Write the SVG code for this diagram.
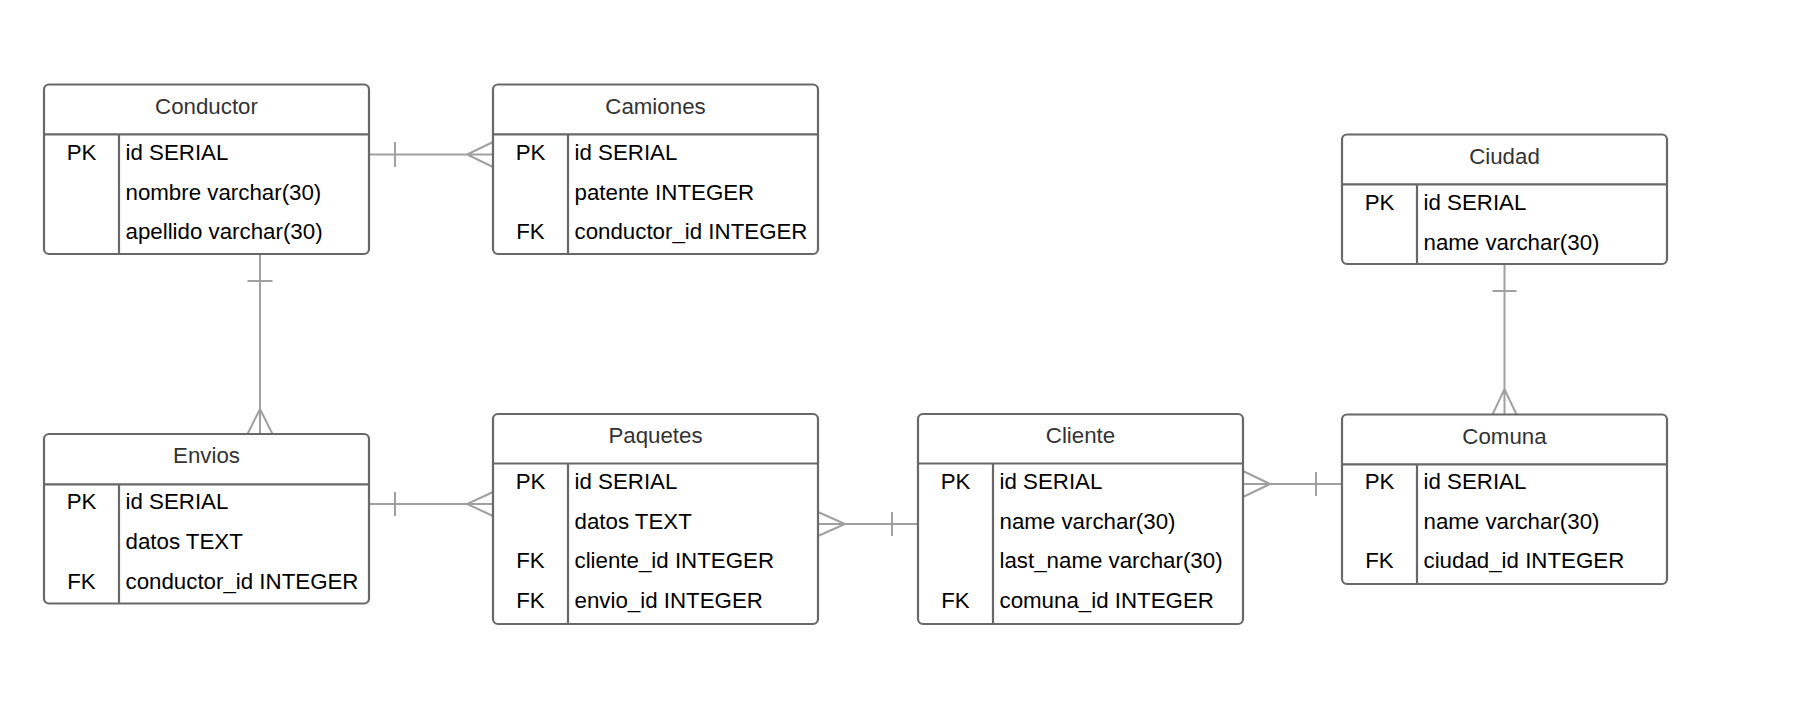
<svg xmlns="http://www.w3.org/2000/svg" width="1800" height="702" viewBox="0 0 1800 702">
<style>
.box{fill:#fff;stroke:#686868;stroke-width:2.2}
.ln{stroke:#686868;stroke-width:2.2;fill:none}
.title{font-family:"Liberation Sans",Arial,sans-serif;font-size:22.3px;fill:#333;text-anchor:middle}
.k{font-family:"Liberation Sans",Arial,sans-serif;font-size:22.3px;fill:#000;text-anchor:middle}
.f{font-family:"Liberation Sans",Arial,sans-serif;font-size:22.3px;fill:#000}
.c{stroke:#a0a0a0;stroke-width:2;fill:none}
</style>
<rect width="1800" height="702" fill="#fff"/>
<g id="connectors">
  <path class="c" d="M369,154.5H493M395,142V167M493,142L467,154.5L493,167"/>
  <path class="c" d="M260,254V434M247.5,281H272.5M247.5,434L260,409L272.5,434"/>
  <path class="c" d="M369,504H493M395,492V516M493,492L467,504L493,516"/>
  <path class="c" d="M818,524H918M818,512L845,524L818,536M892,512V536"/>
  <path class="c" d="M1243,484H1342M1243,471L1270,484L1243,497M1316,472V496"/>
  <path class="c" d="M1504.5,264V414.5M1492.5,291H1516.5M1492.5,414.5L1504.5,389L1516.5,414.5"/>
</g>
<g id="conductor">
  <rect class="box" x="44" y="84.5" width="325" height="169.5" rx="5"/>
  <path class="ln" d="M44,134.3H369M119,134.3V254"/>
  <text class="title" x="206.5" y="113.5">Conductor</text>
  <text class="k" x="81.5" y="159.5">PK</text>
  <text class="f" x="125.5" y="159.5">id SERIAL</text>
  <text class="f" x="125.5" y="199.5">nombre varchar(30)</text>
  <text class="f" x="125.5" y="239">apellido varchar(30)</text>
</g>
<g id="camiones">
  <rect class="box" x="493" y="84.5" width="325" height="169.5" rx="5"/>
  <path class="ln" d="M493,134.3H818M568,134.3V254"/>
  <text class="title" x="655.5" y="113.5">Camiones</text>
  <text class="k" x="530.5" y="159.5">PK</text>
  <text class="f" x="574.5" y="159.5">id SERIAL</text>
  <text class="f" x="574.5" y="199.5">patente INTEGER</text>
  <text class="k" x="530.5" y="239">FK</text>
  <text class="f" x="574.5" y="239">conductor_id INTEGER</text>
</g>
<g id="ciudad">
  <rect class="box" x="1342" y="134.5" width="325" height="129.5" rx="5"/>
  <path class="ln" d="M1342,184.3H1667M1417,184.3V264"/>
  <text class="title" x="1504.5" y="163.5">Ciudad</text>
  <text class="k" x="1379.5" y="209.5">PK</text>
  <text class="f" x="1423.5" y="209.5">id SERIAL</text>
  <text class="f" x="1423.5" y="249.5">name varchar(30)</text>
</g>
<g id="envios">
  <rect class="box" x="44" y="434" width="325" height="169.5" rx="5"/>
  <path class="ln" d="M44,484.3H369M119,484.3V603.5"/>
  <text class="title" x="206.5" y="463">Envios</text>
  <text class="k" x="81.5" y="509">PK</text>
  <text class="f" x="125.5" y="509">id SERIAL</text>
  <text class="f" x="125.5" y="549">datos TEXT</text>
  <text class="k" x="81.5" y="588.5">FK</text>
  <text class="f" x="125.5" y="588.5">conductor_id INTEGER</text>
</g>
<g id="paquetes">
  <rect class="box" x="493" y="414" width="325" height="210" rx="5"/>
  <path class="ln" d="M493,463.5H818M568,463.5V624"/>
  <text class="title" x="655.5" y="443">Paquetes</text>
  <text class="k" x="530.5" y="488.5">PK</text>
  <text class="f" x="574.5" y="488.5">id SERIAL</text>
  <text class="f" x="574.5" y="528.5">datos TEXT</text>
  <text class="k" x="530.5" y="568">FK</text>
  <text class="f" x="574.5" y="568">cliente_id INTEGER</text>
  <text class="k" x="530.5" y="607.5">FK</text>
  <text class="f" x="574.5" y="607.5">envio_id INTEGER</text>
</g>
<g id="cliente">
  <rect class="box" x="918" y="414" width="325" height="210" rx="5"/>
  <path class="ln" d="M918,463.5H1243M993,463.5V624"/>
  <text class="title" x="1080.5" y="443">Cliente</text>
  <text class="k" x="955.5" y="488.5">PK</text>
  <text class="f" x="999.5" y="488.5">id SERIAL</text>
  <text class="f" x="999.5" y="528.5">name varchar(30)</text>
  <text class="f" x="999.5" y="568">last_name varchar(30)</text>
  <text class="k" x="955.5" y="607.5">FK</text>
  <text class="f" x="999.5" y="607.5">comuna_id INTEGER</text>
</g>
<g id="comuna">
  <rect class="box" x="1342" y="414.5" width="325" height="169.5" rx="5"/>
  <path class="ln" d="M1342,464.3H1667M1417,464.3V584"/>
  <text class="title" x="1504.5" y="443.5">Comuna</text>
  <text class="k" x="1379.5" y="488.5">PK</text>
  <text class="f" x="1423.5" y="488.5">id SERIAL</text>
  <text class="f" x="1423.5" y="528.5">name varchar(30)</text>
  <text class="k" x="1379.5" y="568">FK</text>
  <text class="f" x="1423.5" y="568">ciudad_id INTEGER</text>
</g>
</svg>
